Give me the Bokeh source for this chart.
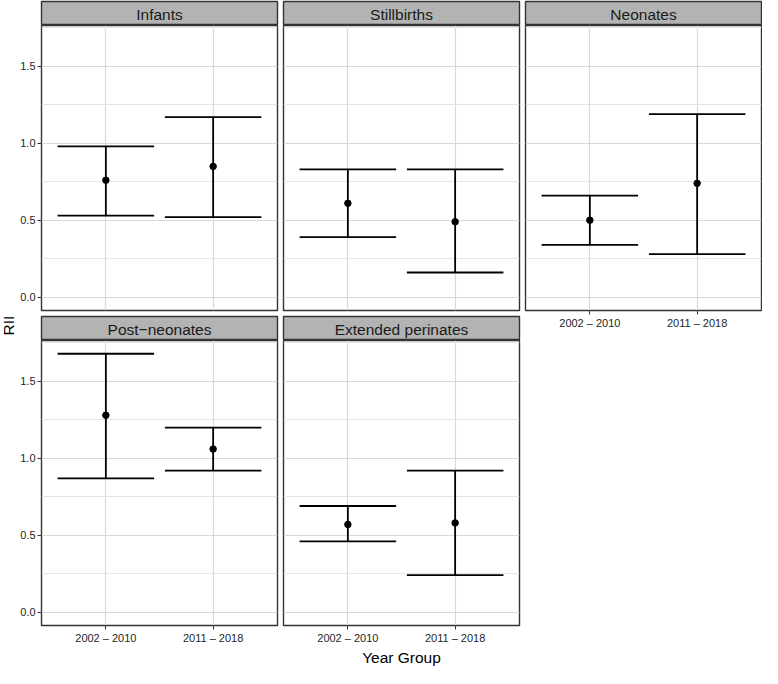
import math
from bokeh.plotting import figure
from bokeh.layouts import row, column
from bokeh.models import (FactorRange, Range1d, FixedTicker, CategoricalTicker,
                          LinearAxis, CategoricalAxis, ColumnDataSource, Label,
                          PrintfTickFormatter)
from bokeh.transform import dodge
from bokeh.embed import file_html
from bokeh.resources import INLINE

# ---------------- data ----------------
groups = ["2002 – 2010", "2011 – 2018"]
facet_names = ["Infants", "Stillbirths", "Neonates", "Post−neonates", "Extended perinates"]

infants_est = [0.76, 0.85]
infants_low = [0.53, 0.52]
infants_high = [0.98, 1.17]

stillbirths_est = [0.61, 0.49]
stillbirths_low = [0.39, 0.16]
stillbirths_high = [0.83, 0.83]

neonates_est = [0.50, 0.74]
neonates_low = [0.34, 0.28]
neonates_high = [0.66, 1.19]

postneonates_est = [1.28, 1.06]
postneonates_low = [0.87, 0.92]
postneonates_high = [1.68, 1.20]

extended_est = [0.57, 0.58]
extended_low = [0.46, 0.24]
extended_high = [0.69, 0.92]

y_ticks = [0.0, 0.5, 1.0, 1.5]
y_minor = [0.25, 0.75, 1.25, 1.75]

# ---------------- style ----------------
FONT = "Liberation Sans"
Y0, Y1 = -0.087, 1.766
PW, PH, SH = 236, 285, 24
BORDER = "#333333"


def base_fig(fw, fh, bl, br, bt, bb, x_range, y_range):
    p = figure(frame_width=fw, frame_height=fh, x_range=x_range, y_range=y_range,
               x_axis_location=None, y_axis_location=None,
               toolbar_location=None, tools="", output_backend="svg",
               min_border=0)
    p.min_border_left = bl
    p.min_border_right = br
    p.min_border_top = bt
    p.min_border_bottom = bb
    p.border_fill_color = "white"
    p.background_fill_color = "white"
    return p


def strip(text, bl, br, bt):
    s = base_fig(PW, SH, bl, br, bt, 0, Range1d(0, 1), Range1d(0, 1))
    s.grid.visible = False
    s.background_fill_color = "#b3b3b3"
    s.outline_line_color = BORDER
    s.outline_line_width = 1.4
    s.add_layout(Label(x=0.5, y=0.45, text=text, text_align="center",
                       text_baseline="middle", text_font_size="15.5px",
                       text_font=FONT, text_color="#1a1a1a"))
    return s


def panel(est, low, high, bl, br, bb, yaxis=False, xaxis=False, xlabel=None):
    xr = FactorRange(factors=groups, range_padding=0.1, range_padding_units="absolute")
    p = base_fig(PW, PH, bl, br, 0, bb, xr, Range1d(Y0, Y1))
    p.outline_line_color = BORDER
    p.outline_line_width = 1.4
    p.xgrid.ticker = CategoricalTicker()
    p.ygrid.ticker = FixedTicker(ticks=y_ticks, minor_ticks=y_minor)
    for g in (p.xgrid, p.ygrid):
        g.grid_line_color = "#d9d9d9"
        g.grid_line_width = 1.2
    p.ygrid.minor_grid_line_color = "#e2e2e2"
    p.ygrid.minor_grid_line_width = 0.9

    src = ColumnDataSource(dict(grp=groups, est=est, low=low, high=high))
    lw = 1.8
    p.segment(x0="grp", y0="low", x1="grp", y1="high", source=src,
              line_color="black", line_width=lw)
    for col in ("low", "high"):
        p.segment(x0=dodge("grp", -0.45, range=xr), y0=col,
                  x1=dodge("grp", 0.45, range=xr), y1=col, source=src,
                  line_color="black", line_width=lw)
    p.scatter(x="grp", y="est", source=src, size=6.5, color="black")

    if yaxis:
        ax = LinearAxis(ticker=FixedTicker(ticks=y_ticks),
                        formatter=PrintfTickFormatter(format="%.1f"))
        ax.axis_line_color = None
        ax.major_tick_out = 4
        ax.major_tick_in = 0
        ax.major_tick_line_color = BORDER
        ax.minor_tick_line_color = None
        ax.major_label_standoff = 2
        ax.major_label_text_font = FONT
        ax.major_label_text_font_size = "11px"
        ax.major_label_text_color = "#262626"
        p.add_layout(ax, "left")
    if xaxis:
        ax = CategoricalAxis(ticker=CategoricalTicker())
        ax.axis_line_color = None
        ax.major_tick_out = 4
        ax.major_tick_in = 0
        ax.major_tick_line_color = BORDER
        ax.minor_tick_line_color = None
        ax.major_label_standoff = 2
        ax.major_label_text_font = FONT
        ax.major_label_text_font_size = "11px"
        ax.major_label_text_color = "#262626"
        if xlabel:
            ax.axis_label = xlabel
            ax.axis_label_standoff = 2
            ax.axis_label_text_font = FONT
            ax.axis_label_text_font_size = "15.5px"
            ax.axis_label_text_font_style = "normal"
            ax.axis_label_text_color = "black"
        p.add_layout(ax, "below")
    return p


# ---------------- layout ----------------
LBL_W = 16
BL1 = 25
TOTAL_H = 1 + SH + PH + 3 + 3 + SH + PH + 43

ylab = figure(width=LBL_W, height=TOTAL_H, x_range=Range1d(0, LBL_W),
              y_range=Range1d(0, TOTAL_H), x_axis_location=None,
              y_axis_location=None, toolbar_location=None, tools="",
              output_backend="svg", min_border=0)
ylab.grid.visible = False
ylab.outline_line_color = None
ylab.add_layout(Label(x=LBL_W / 2, y=TOTAL_H - 325, text="RII", angle=math.pi / 2,
                      text_align="center", text_baseline="middle",
                      text_font_size="15.5px", text_font=FONT, text_color="black"))

s1 = strip(facet_names[0], BL1, 3, 1)
p1 = panel(infants_est, infants_low, infants_high, BL1, 3, 3, yaxis=True)
s4 = strip(facet_names[3], BL1, 3, 3)
p4 = panel(postneonates_est, postneonates_low, postneonates_high, BL1, 3, 43,
           yaxis=True, xaxis=True)

s2 = strip(facet_names[1], 3, 3, 1)
p2 = panel(stillbirths_est, stillbirths_low, stillbirths_high, 3, 3, 3)
s5 = strip(facet_names[4], 3, 3, 3)
p5 = panel(extended_est, extended_low, extended_high, 3, 3, 43,
           xaxis=True, xlabel="Year Group")

s3 = strip(facet_names[2], 3, 1, 1)
p3 = panel(neonates_est, neonates_low, neonates_high, 3, 1, 22, xaxis=True)

layout = row(ylab,
             column(s1, p1, s4, p4),
             column(s2, p2, s5, p5),
             column(s3, p3))

open("out.html", "w").write(file_html(layout, INLINE))
